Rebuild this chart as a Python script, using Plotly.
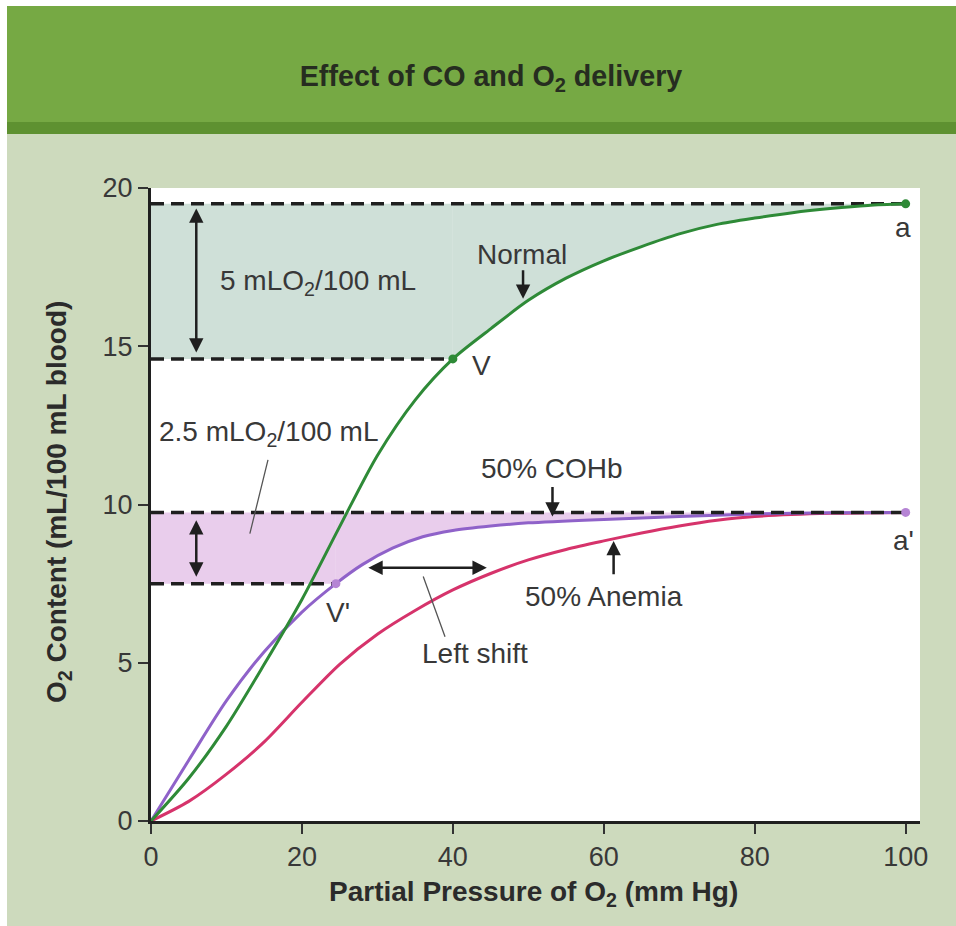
import plotly.graph_objects as go

# ---------------- data ----------------
normal_po2 = [0, 5, 10, 15, 20, 25, 30, 35, 40, 45, 50, 55, 60, 65, 70, 75, 80, 85, 90, 95, 100]
normal_o2 = [0, 1.35, 3.0, 4.95, 7.0, 9.3, 11.55, 13.3, 14.6, 15.55, 16.45, 17.15, 17.7,
             18.15, 18.55, 18.85, 19.05, 19.22, 19.35, 19.45, 19.5]

cohb_po2 = [0, 5, 10, 15, 20, 24.5, 28, 32, 36, 40, 45, 50, 60, 70, 80, 90, 100]
cohb_o2 = [0, 1.92, 3.8, 5.35, 6.6, 7.5, 8.1, 8.62, 8.98, 9.18, 9.32, 9.42, 9.53, 9.62, 9.7, 9.74, 9.75]

anemia_po2 = [0, 5, 10, 15, 20, 25, 30, 35, 40, 45, 50, 55, 60, 65, 70, 75, 80, 90, 100]
anemia_o2 = [0, 0.62, 1.48, 2.5, 3.75, 4.95, 5.9, 6.65, 7.3, 7.82, 8.25, 8.58, 8.85, 9.1,
             9.32, 9.5, 9.62, 9.72, 9.75]

# key points: arterial (a), venous (V), and with 50% COHb (a', V')
point_a = (100, 19.5)
point_v = (40, 14.6)
point_a2 = (100, 9.75)
point_v2 = (24.5, 7.5)

x_ticks = [0, 20, 40, 60, 80, 100]
y_ticks = [0, 5, 10, 15, 20]

# ---------------- styling ----------------
FONT = "Liberation Sans, Arial, Helvetica, sans-serif"
GREEN = "#2e8a37"
PURPLE = "#8f62c9"
PURPLE_DOT = "#b584d4"
RED = "#d6336b"
TEAL_FILL = "#cfe0d8"
PINK_FILL = "#e9cdec"
TXT = "#383838"
DARK = "#1f1f1f"
SPL = dict(shape="spline", smoothing=0.8)

W, H = 956, 926
L, R, T, B = 151, 36, 188, 105
PW, PH = W - L - R, H - T - B


def px_x(px):
    return (px - L) / PW


def px_y(py):
    return (H - B - py) / PH


fig = go.Figure()


def band(curve_x, curve_y, start, top, color):
    """Fill from x=0 to the venous point (flat band) and between curve and top line beyond it."""
    sx, sy = start
    fig.add_trace(go.Scatter(x=[0, sx], y=[sy, sy], mode="lines", line=dict(width=0),
                             hoverinfo="skip"))
    fig.add_trace(go.Scatter(x=[0, sx], y=[top, top], mode="lines", line=dict(width=0),
                             fill="tonexty", fillcolor=color, hoverinfo="skip"))
    cx = [x for x in curve_x if x >= sx]
    cy = [y for x, y in zip(curve_x, curve_y) if x >= sx]
    fig.add_trace(go.Scatter(x=cx, y=cy, mode="lines", line=dict(width=0, **SPL),
                             hoverinfo="skip"))
    fig.add_trace(go.Scatter(x=cx, y=[top] * len(cx), mode="lines", line=dict(width=0),
                             fill="tonexty", fillcolor=color, hoverinfo="skip"))


# shaded a-V extraction regions
band(normal_po2, normal_o2, point_v, point_a[1], TEAL_FILL)
band(cohb_po2, cohb_o2, point_v2, point_a2[1], PINK_FILL)

# curves (anemia and COHb below dashed lines, normal on top)
fig.add_trace(go.Scatter(x=anemia_po2, y=anemia_o2, mode="lines",
                         line=dict(color=RED, width=3, **SPL)))
fig.add_trace(go.Scatter(x=cohb_po2, y=cohb_o2, mode="lines",
                         line=dict(color=PURPLE, width=3, **SPL)))

# dashed reference lines
dash = "13px,7px"
for (x0, x1, yv) in [(0, point_a[0], point_a[1]), (0, point_v[0], point_v[1]),
                     (0, point_a2[0], point_a2[1]), (0, point_v2[0], point_v2[1])]:
    fig.add_trace(go.Scatter(x=[x0, x1], y=[yv, yv], mode="lines",
                             line=dict(color=DARK, width=3.5, dash=dash), hoverinfo="skip"))

fig.add_trace(go.Scatter(x=normal_po2, y=normal_o2, mode="lines",
                         line=dict(color=GREEN, width=3, **SPL)))

# points
fig.add_trace(go.Scatter(x=[point_v[0], point_a[0]], y=[point_v[1], point_a[1]], mode="markers",
                         marker=dict(color=GREEN, size=9)))
fig.add_trace(go.Scatter(x=[point_v2[0], point_a2[0]], y=[point_v2[1], point_a2[1]], mode="markers",
                         marker=dict(color=PURPLE_DOT, size=9)))

ann = []


def label(x, y, text, xanchor="center", size=28):
    ann.append(dict(x=x, y=y, xref="x", yref="y", text=text, showarrow=False,
                    xanchor=xanchor, yanchor="middle", font=dict(family=FONT, size=size, color=TXT)))


def arrow(x0, y0, x1, y1, double=False, head=2, width=2.5, color=DARK, size=1.15):
    d = dict(x=x1, y=y1, ax=x0, ay=y0, xref="x", yref="y", axref="x", ayref="y", text="",
             showarrow=True, arrowhead=head, arrowsize=size, arrowwidth=width, arrowcolor=color,
             standoff=0, startstandoff=0)
    if double:
        d.update(arrowside="end+start", startarrowhead=head, startarrowsize=size)
    ann.append(d)


label(8.9, 17.0, "5 mLO<sub>2</sub>/100 mL", xanchor="left")
label(49.1, 17.9, "Normal")
label(42.3, 14.4, "V", xanchor="left")
label(99.7, 18.75, "a")
label(99.7, 8.85, "a'")
label(53.1, 11.14, "50% COHb")
label(60.0, 7.09, "50% Anemia")
label(24.8, 6.6, "V'")
label(0.8, 12.25, "2.5 mLO<sub>2</sub>/100 mL", xanchor="left")
label(42.9, 5.3, "Left shift")

arrow(6, 19.4, 6, 14.8, double=True)
arrow(6, 9.55, 6, 7.72, double=True)
arrow(28.6, 8.0, 44.5, 8.0, double=True)
arrow(49.3, 17.45, 49.3, 16.5)
arrow(53.2, 10.6, 53.2, 9.62)
arrow(61.3, 7.75, 61.3, 8.85)
arrow(15.55, 11.46, 13.1, 9.08, head=0, width=1.3, color="#555555")
arrow(36.0, 7.77, 38.96, 5.82, head=0, width=1.3, color="#555555")

# axis titles
ann.append(dict(x=px_x(533), y=px_y(893), xref="paper", yref="paper", showarrow=False,
                xanchor="center", yanchor="middle",
                text="<b>Partial Pressure of O<sub>2</sub> (mm Hg)</b>",
                font=dict(family=FONT, size=28, color="#2b2b2b")))
ann.append(dict(x=px_x(58), y=px_y(502), xref="paper", yref="paper", showarrow=False,
                xanchor="center", yanchor="middle",
                textangle=-90, text="<b>O<sub>2</sub> Content (mL/100 mL blood)</b>",
                font=dict(family=FONT, size=28, color="#2b2b2b")))

# header band and white page border
shapes = [
    dict(type="rect", xref="paper", yref="paper", x0=px_x(0), x1=px_x(W), y0=px_y(124), y1=px_y(6),
         fillcolor="#76a944", line=dict(width=0), layer="below"),
    dict(type="rect", xref="paper", yref="paper", x0=px_x(0), x1=px_x(W), y0=px_y(134), y1=px_y(122),
         fillcolor="#5e9131", line=dict(width=0), layer="below"),
    dict(type="rect", xref="paper", yref="paper", x0=px_x(0), x1=px_x(W), y0=px_y(6), y1=px_y(0),
         fillcolor="#ffffff", line=dict(width=0), layer="below"),
    dict(type="rect", xref="paper", yref="paper", x0=px_x(0), x1=px_x(7), y0=px_y(H), y1=px_y(0),
         fillcolor="#ffffff", line=dict(width=0), layer="below"),
]

axis_common = dict(showgrid=False, zeroline=False, showline=True, linewidth=3, linecolor=DARK,
                   ticks="outside", ticklen=10, tickwidth=2, tickcolor="#333333",
                   tickfont=dict(family=FONT, size=27, color=TXT))

fig.update_layout(
    width=W, height=H, autosize=False,
    margin=dict(l=L, r=R, t=T, b=B, pad=0),
    paper_bgcolor="#cddabd", plot_bgcolor="#ffffff",
    showlegend=False,
    title=dict(text="<b>Effect of CO and O<sub>2</sub> delivery</b>", x=491 / W, y=1 - 76 / H,
               xanchor="center", yanchor="middle",
               font=dict(family=FONT, size=28.7, color="#262d20")),
    xaxis=dict(range=[0, 101.9], tickvals=x_ticks, **axis_common),
    yaxis=dict(range=[0, 20.0], tickvals=y_ticks, **axis_common),
    annotations=ann,
    shapes=shapes,
)

fig.write_html("out.html", config={"displayModeBar": False},
               post_script="document.body.style.margin='0';document.body.style.overflow='hidden';")
